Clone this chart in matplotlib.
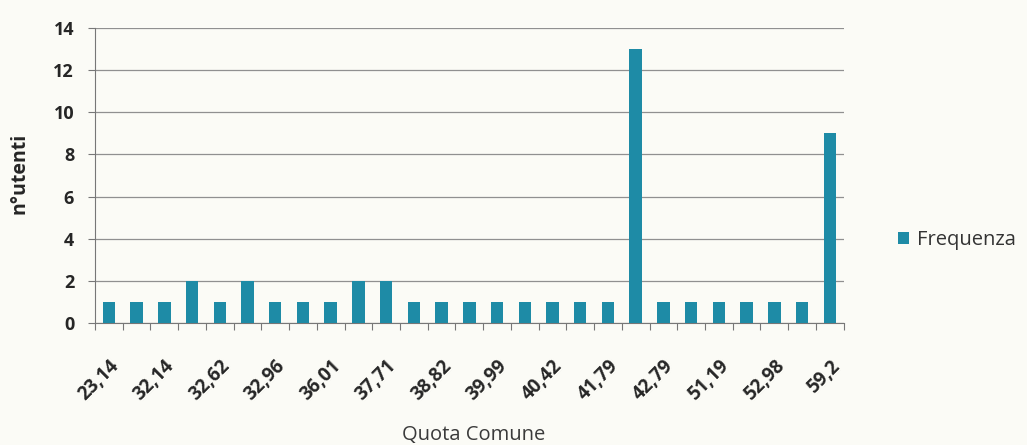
import matplotlib
matplotlib.use("Agg")
import matplotlib.pyplot as plt
from matplotlib.patches import Patch
import numpy as np

# Data
frequenza = [1, 1, 1, 2, 1, 2, 1, 1, 1, 2, 2, 1, 1, 1, 1, 1, 1, 1, 1, 13, 1, 1, 1, 1, 1, 1, 9]
tick_labels = ["23,14", "32,14", "32,62", "32,96", "36,01", "37,71", "38,82",
               "39,99", "40,42", "41,79", "42,79", "51,19", "52,98", "59,2"]
yticks = [0, 2, 4, 6, 8, 10, 12, 14]

plt.rcParams['font.family'] = ['Open Sans', 'DejaVu Sans']
bg = '#fbfbf6'
bar_color = '#1e8ba6'
text_color = '#262626'

fig = plt.figure(figsize=(10.27, 4.45), dpi=100, facecolor=bg)
ax = fig.add_axes([0.0925, 0.274, 0.729, 0.663], facecolor=bg)

x = np.arange(len(frequenza))
ax.bar(x, frequenza, width=0.45, color=bar_color, zorder=3)

ax.set_xlim(-0.5, len(frequenza) - 0.5)
ax.set_ylim(0, 14)
ax.set_yticks(yticks)
ax.set_yticklabels([str(v) for v in yticks], fontsize=13, fontweight='bold', color=text_color)
ax.yaxis.grid(True, color='#909090', linewidth=0.9, zorder=0)

# Category boundary ticks (Excel style)
ax.set_xticks(np.arange(-0.5, len(frequenza), 1.0), minor=True)
ax.tick_params(axis='x', which='minor', length=5, color='#777777', width=0.8)
ax.set_xticks(x[::2])
ax.set_xticklabels(tick_labels, rotation=45, ha='right', rotation_mode='anchor',
                   fontsize=13.5, fontweight='bold', color=text_color)
ax.tick_params(axis='x', which='major', length=0, pad=24)
ax.tick_params(axis='y', length=5, color='#777777', width=0.8, pad=10)

for s in ['top', 'right']:
    ax.spines[s].set_visible(False)
ax.spines['left'].set_color('#777777')
ax.spines['bottom'].set_color('#777777')

fig.text(474 / 1027, 1 - 435 / 445, "Quota Comune", fontsize=14.5, color='#3a3a3a',
         ha='center', va='center')
fig.text(20 / 1027, 1 - 173 / 445, "n°utenti", fontsize=14, color='#262626',
         fontweight='bold', rotation=90, ha='center', va='center')

fig.legend(handles=[Patch(facecolor=bar_color, label='Frequenza')],
           loc='center left', bbox_to_anchor=(0.857, 0.46), frameon=False,
           fontsize=14.5, handlelength=0.55, handleheight=0.55, handletextpad=0.4,
           labelcolor='#333333')

fig.savefig("out.png", dpi=100, facecolor=bg)
